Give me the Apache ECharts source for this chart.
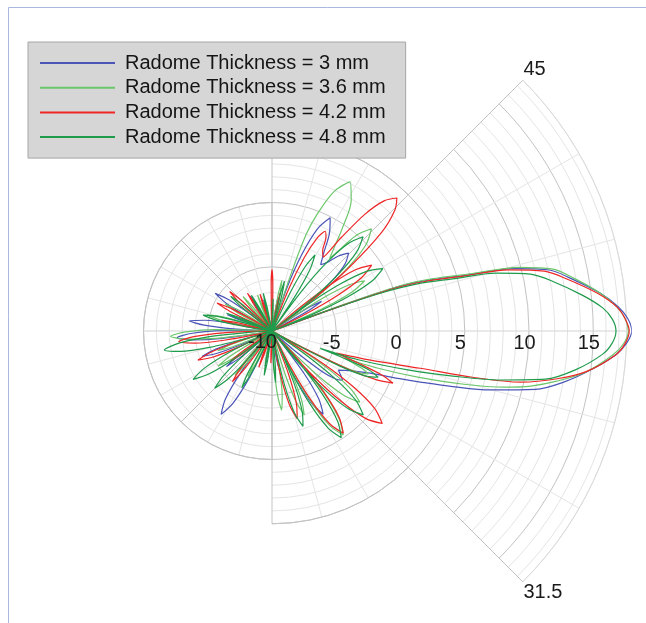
<!DOCTYPE html>
<html><head><meta charset="utf-8">
<script src="https://cdn.jsdelivr.net/npm/echarts@6/dist/echarts.min.js"></script>
<style>html,body{margin:0;padding:0;background:#fff}#c{width:646px;height:623px}</style>
</head><body><div id="c"></div>
<script>
// ---------- data (angle in degrees, gain in dB); each lobe runs centre -> tip -> centre ----------
const seriesNames = ['Radome Thickness = 3 mm','Radome Thickness = 3.6 mm','Radome Thickness = 4.2 mm','Radome Thickness = 4.8 mm'];
const seriesColors = ['#4b55b8','#6cc66c','#ee2626','#1f9b4c'];
const radialLabelValues = [-10,-5,0,5,10,15];
const centreLabel = '-10';
const angleTickLabels = {'45':'45','-45':'31.5'};

const pattern3mm = [
 [-184,-10],[-182,-9.1],[-180.4,-6.1],[-178.4,-3.8],[-176,-2.6],[-173.6,-3.8],[-171.6,-6.1],[-170,-9.1],[-168,-10],
 [-167,-10],[-163.85,-7.7],[-162.1,-5.4],[-160,-4.2],[-157.9,-5.4],[-156.15,-7.7],[-153,-10],
 [-148,-10],[-145.3,-9.0],[-143.8,-6.7],[-142,-5.5],[-140.2,-6.7],[-138.7,-9.0],[-136,-10],
 [-131.4,-10],[-128.9,-8.9],[-126.9,-5.9],[-124.4,-3.6],[-121.4,-2.4],[-118.4,-3.6],[-115.9,-5.9],[-113.9,-8.9],[-111.4,-10],
 [-106,-10],[-102.5,-8.4],[-101,-7.2],[-99.5,-8.4],[-96,-10],
 [-85,-10],[-81.5,-8.4],[-80,-7.2],[-78.5,-8.4],[-75,-10],
 [-68.4,-10],[-65.9,-8.9],[-63.9,-5.9],[-61.4,-3.6],[-58.4,-2.4],[-55.4,-3.6],[-52.9,-5.9],[-50.9,-8.9],[-48.4,-10],
 [-43,-10],[-41,-7.5],[-39,-5],[-37,-3.8],[-35,-3.3],[-33,-3.6],[-30.5,-4.0],[-27,-3.2],[-23.3,-1.7],[-20.5,0.6],[-19,2.2],
 [-17.1,4.7],[-15.1,7.6],[-12.5,11.0],[-10,13.0],[-7.1,14.9],[-4,16.8],[-2,17.6],
 [0,18.0],[2,17.7],[4,17.0],[6.6,15.7],[10,13.6],[12.4,12.1],[14.5,9.4],[16,5.8],[18,2.8],[19.3,0.5],[20,-4],[20.6,-10],
 [25,-10],[27.7,-9.0],[29.2,-6.7],[31,-5.5],[32.8,-6.7],[34.3,-9.0],[37,-10],
 [34,-10],[36,-8.5],[38,-6],[40,-3.8],[42.5,-2.3],[45.5,-1.5],[48.5,-2.2],[51,-3.1],[53.7,-3.6],[56.5,-2.7],[59.5,-1.2],[62.8,-0.1],[66,-1.3],[68.8,-3.7],[71,-6.6],[72.8,-10],
 [75.5,-10],[78.65,-8.7],[80,-7.5],[81.35,-8.7],[84.5,-10],
 [86.5,-10],[89,-9.5],[90,-8.3],[91,-9.5],[93.5,-10],
 [100,-10],[103.5,-8.7],[105,-7.5],[106.5,-8.7],[110,-10],
 [116.5,-10],[120.35,-8],[122,-6.8],[123.65,-8],[127.5,-10],
 [138.5,-10],[142.1,-8.2],[144.1,-5.9],[146.5,-4.7],[148.9,-5.9],[150.9,-8.2],[154.5,-10],
 [155,-10],[157.25,-9.8],[158.5,-7.5],[160,-6.3],[161.5,-7.5],[162.75,-9.8],[165,-10],
 [166,-10],[169.15,-7.0],[170.9,-4.7],[173,-3.5],[175.1,-4.7],[176.85,-7.0],[180,-10]
];

const pattern3p6mm = [
 [-185,-10],[-183,-8.6],[-181.4,-5.6],[-179.4,-3.3],[-177,-2.1],[-174.6,-3.3],[-172.6,-5.6],[-171,-8.6],[-169,-10],
 [-166,-10],[-163.3,-9.0],[-161.8,-6.7],[-160,-5.5],[-158.2,-6.7],[-156.7,-9.0],[-154,-10],
 [-153.5,-10],[-150.6,-8.5],[-148.95,-6.2],[-147,-5],[-145.05,-6.2],[-143.4,-8.5],[-140.5,-10],
 [-136,-10],[-133.3,-9.0],[-131.8,-6.7],[-130,-5.5],[-128.2,-6.7],[-126.7,-9.0],[-124,-10],
 [-123,-10],[-120.75,-9.5],[-119.5,-7.2],[-118,-6],[-116.5,-7.2],[-115.25,-9.5],[-113,-10],
 [-106.5,-10],[-103.35,-8.6],[-102,-7.4],[-100.65,-8.6],[-97.5,-10],
 [-90,-10],[-86.85,-7.3],[-85.1,-5.0],[-83,-3.8],[-80.9,-5.0],[-79.15,-7.3],[-76,-10],
 [-76.5,-10],[-74.6,-9.5],[-73.1,-6.5],[-71.25,-4.2],[-69,-3],[-66.75,-4.2],[-64.9,-6.5],[-63.4,-9.5],[-61.5,-10],
 [-65.6,-10],[-63.1,-6.7],[-61.1,-3.7],[-58.6,-1.4],[-55.6,-0.2],[-52.6,-1.4],[-50.1,-3.7],[-48.1,-6.7],[-45.6,-10],
 [-48,-10],[-45.75,-7.7],[-43.95,-4.7],[-41.7,-2.4],[-39,-1.2],[-36.3,-2.4],[-34.05,-4.7],[-32.25,-7.7],[-30,-10],
 [-30,-10],[-28.5,-7.5],[-27,-4.2],[-25.5,-2.4],[-24,-1.8],[-22.6,-2.4],[-21.3,-3.5],[-20.5,-3.9],
 [-19.2,-1],[-17.5,2],[-15.5,5.5],[-13.6,8.6],[-12,10.6],[-10,12.5],[-7.5,14.6],[-4,16.6],[-2,17.4],
 [0,17.73],[2,17.5],[4,16.9],[6.6,15.7],[10,13.8],[12.4,12.4],[14.5,9.8],[16,6.2],[18,3.2],[19.5,0.5],[20.3,-4],[21,-10],
 [20.5,-10],[22.5,-8.3],[24.1,-5.3],[26.1,-3],[28.5,-1.8],[30.9,-3],[32.9,-5.3],[34.5,-8.3],[36.5,-10],
 [34.8,-10],[35.9,-9.4],[37.55,-5.4],[39.75,-2.4],[42.5,-0.1],[45.8,1.1],[48.5,0.0],[50,-1.5],[51.5,-2.8],[53.5,-1.8],[55.5,-0.4],
 [58.8,1.9],[62.4,3.1],[66,1.9],[68.8,-0.2],[70.5,-2],[71.6,-5.5],[72.5,-10],
 [74,-10],[76.25,-9.5],[77.5,-7.2],[79,-6],[80.5,-7.2],[81.75,-9.5],[84,-10],
 [87,-10],[89.8,-8.7],[91,-7.5],[92.2,-8.7],[95,-10],
 [107,-10],[110.5,-8.2],[112,-7],[113.5,-8.2],[117,-10],
 [124.5,-10],[128.35,-7.7],[130,-6.5],[131.65,-7.7],[135.5,-10],
 [143.5,-10],[146.4,-9.3],[148.05,-7.0],[150,-5.8],[151.95,-7.0],[153.6,-9.3],[156.5,-10],
 [159,-10],[162.15,-8.3],[163.9,-6.0],[166,-4.8],[168.1,-6.0],[169.85,-8.3],[173,-10]
];

const pattern4p2mm = [
 [-181.5,-10],[-179.5,-9.2],[-177.9,-6.2],[-175.9,-3.9],[-173.5,-2.7],[-171.1,-3.9],[-169.1,-6.2],[-167.5,-9.2],[-165.5,-10],
 [-166.5,-10],[-162.9,-7.3],[-160.9,-5.0],[-158.5,-3.8],[-156.1,-5.0],[-154.1,-7.3],[-150.5,-10],
 [-149,-10],[-146.75,-9.5],[-145.5,-7.2],[-144,-6],[-142.5,-7.2],[-141.25,-9.5],[-139,-10],
 [-134.5,-10],[-131.6,-8.5],[-129.95,-6.2],[-128,-5],[-126.05,-6.2],[-124.4,-8.5],[-121.5,-10],
 [-115,-10],[-111.5,-8.2],[-110,-7],[-108.5,-8.2],[-105,-10],
 [-96,-10],[-93.2,-8.7],[-92,-7.5],[-90.8,-8.7],[-88,-10],
 [-83,-10],[-80.75,-9.4],[-78.95,-6.4],[-76.7,-4.1],[-74,-2.9],[-71.3,-4.1],[-69.05,-6.4],[-67.25,-9.4],[-65,-10],
 [-65.1,-10],[-62.6,-6.8],[-60.6,-3.8],[-58.1,-1.5],[-55.1,-0.3],[-52.1,-1.5],[-49.6,-3.8],[-47.6,-6.8],[-45.1,-10],
 [-50,-10],[-49,-9.3],[-47.5,-5.3],[-45.5,-2.3],[-43,0],[-40,1.2],[-37,0],[-34.5,-2.3],[-32.5,-5.3],[-31,-9.3],[-30,-10],
 [-29.5,-10],[-28,-7],[-26.5,-3.2],[-25,-1],[-23.3,0.25],[-21.8,-0.8],[-20.4,-2.9],[-19,-4.7],
 [-16.5,-2.0],[-14.1,1.9],[-13,6.0],[-11.6,9.8],[-9.5,12.5],[-7.3,14.7],[-4,16.8],[-2,17.5],
 [0,17.8],[2,17.5],[4,16.9],[6.6,15.5],[10,13.3],[12.4,11.7],[14.5,9.0],[16,5.5],[18,2.4],[19.2,0],[20,-4.5],[20.6,-10],
 [24.5,-10],[26.75,-7.2],[28.55,-4.2],[30.8,-1.9],[33.5,-0.7],[36.2,-1.9],[38.45,-4.2],[40.25,-7.2],[42.5,-10],
 [36,-10],[37.5,-6],[39.5,-2.2],[42,1.5],[44.5,3.4],[46.8,4.2],[49.2,3.4],[51.5,1.6],[53.5,-1.0],[55.3,-3.0],[57.8,-2.6],[60,-1.6],[61.9,-1.2],[64,-1.9],[66.3,-3.8],[68.3,-6.5],[70.5,-10],
 [73.5,-10],[76.65,-8.2],[78,-7],[79.35,-8.2],[82.5,-10],
 [86.5,-10],[88.1,-8.75],[88.95,-6.45],[90,-5.25],[91.05,-6.45],[91.9,-8.75],[93.5,-10],
 [103,-10],[106.5,-8.2],[108,-7],[109.5,-8.2],[113,-10],
 [117.5,-10],[121.35,-7.7],[123,-6.5],[124.65,-7.7],[128.5,-10],
 [130.5,-10],[133.4,-9.0],[135.05,-6.7],[137,-5.5],[138.95,-6.7],[140.6,-9.0],[143.5,-10],
 [146.5,-10],[149.4,-8.7],[151.05,-6.4],[153,-5.2],[154.95,-6.4],[156.6,-8.7],[159.5,-10],
 [163,-10],[165.25,-9.5],[166.5,-7.2],[168,-6],[169.5,-7.2],[170.75,-9.5],[173,-10]
];

const pattern4p8mm = [
 [-178.5,-10],[-176.4,-8.0],[-174.7,-5.0],[-172.55,-2.7],[-170,-1.5],[-167.45,-2.7],[-165.3,-5.0],[-163.6,-8.0],[-161.5,-10],
 [-157.5,-10],[-155.25,-9.3],[-153.45,-6.3],[-151.2,-4.0],[-148.5,-2.8],[-145.8,-4.0],[-143.55,-6.3],[-141.75,-9.3],[-139.5,-10],
 [-143,-10],[-139.4,-7.2],[-137.4,-4.9],[-135,-3.7],[-132.6,-4.9],[-130.6,-7.2],[-127,-10],
 [-124,-10],[-121.3,-8.5],[-119.8,-6.2],[-118,-5],[-116.2,-6.2],[-114.7,-8.5],[-112,-10],
 [-105,-10],[-101.5,-7.7],[-100,-6.5],[-98.5,-7.7],[-95,-10],
 [-90.5,-10],[-88.5,-9.5],[-87.35,-7.2],[-86,-6],[-84.65,-7.2],[-83.5,-9.5],[-81.5,-10],
 [-81,-10],[-78.75,-8.7],[-76.95,-5.7],[-74.7,-3.4],[-72,-2.2],[-69.3,-3.4],[-67.05,-5.7],[-65.25,-8.7],[-63,-10],
 [-67,-10],[-64.5,-6.6],[-62.5,-3.6],[-60,-1.3],[-57,-0.1],[-54,-1.3],[-51.5,-3.6],[-49.5,-6.6],[-47,-10],
 [-52.6,-10],[-50.1,-6.85],[-48.1,-3.85],[-45.6,-1.55],[-42.6,-0.35],[-39.6,-1.55],[-37.1,-3.85],[-35.1,-6.85],[-32.6,-10],
 [-30.5,-10],[-29,-7.5],[-27.3,-4],[-25.5,-1.8],[-23.5,-1],[-21.8,-1.9],[-20.6,-4.3],[-19.8,-6],
 [-18.5,-3],[-16,1],[-14,4.5],[-12.1,8.2],[-10,11.6],[-7.3,13.8],[-4,15.8],[-2,16.5],
 [0,16.77],[2,16.5],[4,15.8],[6.6,14.3],[10,12.2],[12.4,10.6],[14.5,8.0],[16,4.8],[18,1.8],[19.2,-1],[20,-5],[20.5,-10],
 [19.9,-10],[22.3,-6.6],[24.2,-3.6],[26.55,-1.3],[29.4,-0.1],[32.25,-1.3],[34.6,-3.6],[36.5,-6.6],[38.9,-10],
 [36,-10],[38.5,-6.3],[40.5,-3.3],[43,-1.0],[46,0.2],[49,-1.0],[51.5,-3.3],[53.5,-6.3],[56,-10],
 [53,-10],[54.9,-9.7],[56.4,-6.7],[58.25,-4.4],[60.5,-3.2],[62.75,-4.4],[64.6,-6.7],[66.1,-9.7],[68,-10],
 [71,-10],[73.25,-9.5],[74.5,-7.2],[76,-6],[77.5,-7.2],[78.75,-9.5],[81,-10],
 [84,-10],[86.8,-8.7],[88,-7.5],[89.2,-8.7],[92,-10],
 [98,-10],[101.5,-8.2],[103,-7],[104.5,-8.2],[108,-10],
 [115,-10],[118.5,-8],[120,-6.8],[121.5,-8],[125,-10],
 [134,-10],[136.7,-9.3],[138.2,-7.0],[140,-5.8],[141.8,-7.0],[143.3,-9.3],[146,-10],
 [154.2,-10],[156.2,-9.7],[157.35,-7.4],[158.7,-6.2],[160.05,-7.4],[161.2,-9.7],[163.2,-10],
 [160,-10],[163.15,-8.0],[164.9,-5.7],[167,-4.5],[169.1,-5.7],[170.85,-8.0],[174,-10]
];

const patterns = [pattern3mm, pattern3p6mm, pattern4p2mm, pattern4p8mm];

// ---------- layout / style ----------
const CX = 272, CY = 331, PX_PER_DB = 12.85, RMIN = -10;
const rad = v => (v - RMIN) * PX_PER_DB;
const MAJOR = '#c3c3c3', MINOR = '#e5e5e5', MID = '#d3d3d3';
const radialColors = [MAJOR, MINOR, MINOR, MINOR, MINOR];
const FONT = "'Liberation Sans', Arial, sans-serif";

// sectors: [startAngle, endAngle, max dB, spoke colours, outer arc colour]
const sectors = [
  [90, 270, 0, [MAJOR,MINOR,MINOR,MAJOR,MINOR,MINOR,MID,MINOR,MINOR,MAJOR,MINOR,MINOR,MAJOR], MAJOR],
  [45, 90, 5, [MAJOR,MINOR,MINOR,MAJOR], MAJOR],
  [-90, -45, 5, [MAJOR,MINOR,MINOR,MAJOR], MAJOR],
  [-45, 45, 17.6, [MAJOR,MINOR,MINOR,MID,MINOR,MINOR,MAJOR], '#dadada']
];

const polar = [], angleAxis = [], radiusAxis = [];
sectors.forEach((s, i) => {
  polar.push({center: [CX, CY], radius: [0, rad(s[2])]});
  const isMain = i === 3;
  angleAxis.push({
    polarIndex: i, type: 'value', min: s[0], max: s[1], interval: 15,
    startAngle: s[0], endAngle: s[1], clockwise: false,
    axisLine: {show: true, lineStyle: {color: s[4], width: 1}},
    axisTick: {show: false},
    axisLabel: isMain ? {
      show: true, margin: 1, fontSize: 20, color: '#1a1a1a', fontFamily: FONT,
      formatter: v => angleTickLabels[String(v)] || ''
    } : {show: false},
    splitLine: {show: true, lineStyle: {color: s[3], width: 1}}
  });
  radiusAxis.push({
    polarIndex: i, type: 'value', min: RMIN, max: s[2], interval: 1,
    axisLine: {show: false}, axisTick: {show: false}, axisLabel: {show: false},
    splitLine: {show: true, lineStyle: {color: radialColors, width: 1}}
  });
});
// data polar (full circle) – carries the curves and the radial labels
polar.push({center: [CX, CY], radius: [0, rad(18)]});
angleAxis.push({polarIndex: 4, type: 'value', min: 0, max: 360, startAngle: 0, clockwise: false, show: false});
radiusAxis.push({
  polarIndex: 4, type: 'value', min: RMIN, max: 18, interval: 5, z: 3,
  axisLine: {show: false}, axisTick: {show: false}, splitLine: {show: false},
  axisLabel: {show: true, showMinLabel: true, showMaxLabel: false, hideOverlap: false,
    fontSize: 20, color: '#1a1a1a', fontFamily: FONT,
    margin: -2, verticalAlign: 'top', align: 'center', padding: [0, 9, 0, 0],
    formatter: v => (radialLabelValues.includes(v) && v !== RMIN) ? String(v) : ''}
});

const option = {
  animation: false,
  backgroundColor: '#ffffff',
  graphic: [
    {type: 'rect', silent: true, z: -10,
     shape: {x: 8.5, y: 7.5, width: 700, height: 700},
     style: {fill: 'none', stroke: '#a9b8de', lineWidth: 1}},
    // label of the centre ring (the radius axis does not draw its label at the pole)
    {type: 'text', silent: true, z: 10, left: CX - 24, top: CY + 1,
     style: {text: centreLabel, fontSize: 20, fontFamily: FONT, fill: '#1a1a1a'}}
  ],
  polar, angleAxis, radiusAxis,
  legend: {
    orient: 'vertical', left: 28, top: 42,
    backgroundColor: '#d6d6d6', borderColor: '#a6a6a6', borderWidth: 1,
    padding: [11, 20, 11, 12], itemWidth: 75, itemHeight: 2, itemGap: 4.7, icon: 'rect',
    textStyle: {fontSize: 20, fontFamily: FONT, color: '#151515', lineHeight: 20, padding: [0, 0, 0, 5]},
    data: seriesNames
  },
  series: seriesNames.map((n, i) => ({
    type: 'line', name: n, coordinateSystem: 'polar', polarIndex: 4,
    data: patterns[i].map(p => [p[1], p[0]]),
    showSymbol: false, smooth: 0.3, clip: false,
    lineStyle: {width: 1.2, color: seriesColors[i]},
    itemStyle: {color: seriesColors[i]}
  }))
};
const chart = echarts.init(document.getElementById('c'), null, {renderer: 'canvas'});
chart.setOption(option);
</script>
</body></html>
